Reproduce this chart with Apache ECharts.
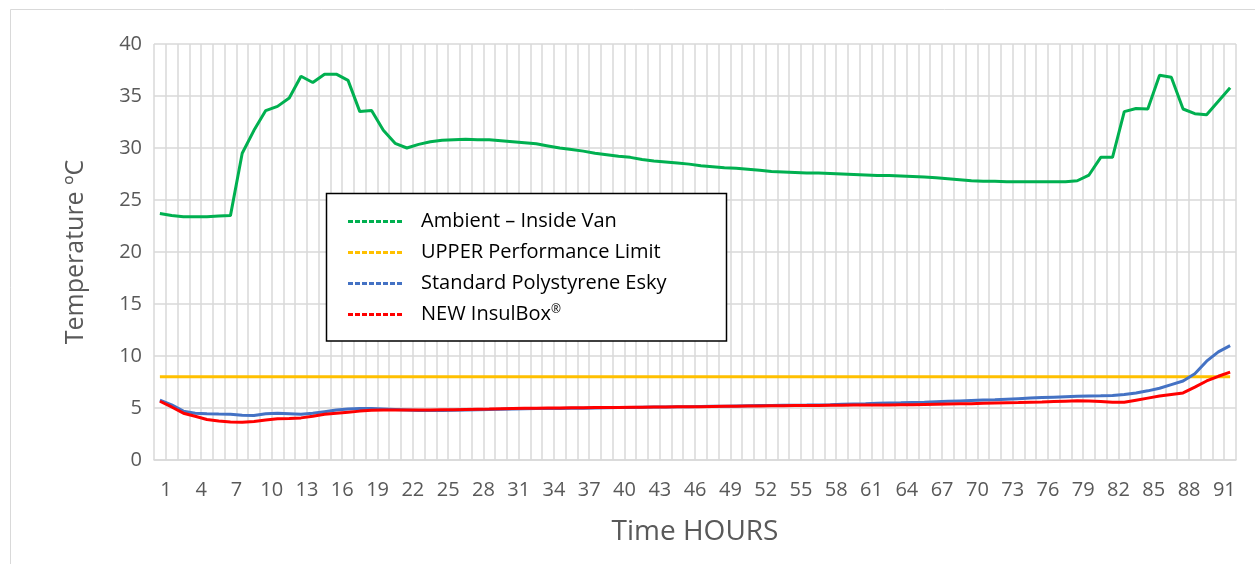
<!DOCTYPE html>
<html>
<head>
<meta charset="utf-8">
<script src="https://cdn.jsdelivr.net/npm/echarts@6/dist/echarts.min.js"></script>
<style>
html,body{margin:0;padding:0;background:#fff;}
#chart{width:1255px;height:564px;}
</style>
</head>
<body>
<div id="chart"></div>
<script>
// Hours 1..92
const hours = [];
for (let i = 1; i <= 92; i++) hours.push(String(i));

const seriesNames = ['Ambient \u2013 Inside Van', 'UPPER Performance Limit', 'Standard Polystyrene Esky', 'NEW InsulBox\u00AE'];

const ambient = [
  23.7, 23.5, 23.4, 23.4, 23.4, 23.45, 23.5, 29.5, 31.7, 33.6,
  34.0, 34.8, 36.9, 36.3, 37.1, 37.1, 36.5, 33.5, 33.6, 31.7,
  30.45, 30.0, 30.35, 30.6, 30.75, 30.8, 30.85, 30.8, 30.8, 30.7,
  30.6, 30.5, 30.4, 30.2, 30.0, 29.85, 29.7, 29.5, 29.35, 29.2,
  29.1, 28.9, 28.75, 28.65, 28.55, 28.45, 28.3, 28.2, 28.1, 28.05,
  27.95, 27.85, 27.75, 27.7, 27.65, 27.6, 27.6, 27.55, 27.5, 27.45,
  27.4, 27.35, 27.35, 27.3, 27.25, 27.2, 27.15, 27.05, 26.95, 26.85,
  26.8, 26.8, 26.75, 26.75, 26.75, 26.75, 26.75, 26.75, 26.85, 27.4,
  29.1, 29.1, 33.5, 33.8, 33.75, 37.0, 36.8, 33.75, 33.3, 33.2,
  34.5, 35.8
];

const upperLimit = [
  8, 8, 8, 8, 8, 8, 8, 8, 8, 8, 8, 8, 8, 8, 8, 8, 8, 8, 8, 8,
  8, 8, 8, 8, 8, 8, 8, 8, 8, 8, 8, 8, 8, 8, 8, 8, 8, 8, 8, 8,
  8, 8, 8, 8, 8, 8, 8, 8, 8, 8, 8, 8, 8, 8, 8, 8, 8, 8, 8, 8,
  8, 8, 8, 8, 8, 8, 8, 8, 8, 8, 8, 8, 8, 8, 8, 8, 8, 8, 8, 8,
  8, 8, 8, 8, 8, 8, 8, 8, 8, 8, 8, 8
];

const polystyrene = [
  5.75, 5.3, 4.7, 4.5, 4.45, 4.42, 4.4, 4.3, 4.28, 4.45,
  4.5, 4.45, 4.4, 4.5, 4.65, 4.8, 4.9, 4.95, 4.95, 4.9,
  4.85, 4.8, 4.75, 4.75, 4.75, 4.78, 4.8, 4.82, 4.85, 4.87,
  4.9, 4.92, 4.94, 4.95, 4.96, 4.97, 4.98, 5.0, 5.02, 5.04,
  5.06, 5.08, 5.09, 5.1, 5.11, 5.12, 5.14, 5.16, 5.18, 5.2,
  5.22, 5.24, 5.25, 5.26, 5.27, 5.28, 5.3, 5.32, 5.35, 5.38,
  5.41, 5.45, 5.48, 5.5, 5.53, 5.56, 5.6, 5.64, 5.68, 5.72,
  5.76, 5.8, 5.85, 5.9, 5.95, 6.0, 6.04, 6.08, 6.12, 6.15,
  6.17, 6.2, 6.3, 6.45, 6.65, 6.9, 7.25, 7.6, 8.3, 9.5,
  10.4, 11.0
];

const insulBox = [
  5.65, 5.1, 4.5, 4.2, 3.9, 3.75, 3.65, 3.62, 3.7, 3.85,
  3.97, 4.0, 4.05, 4.2, 4.4, 4.5, 4.6, 4.7, 4.78, 4.8,
  4.8, 4.8, 4.8, 4.8, 4.82, 4.84, 4.86, 4.88, 4.9, 4.93,
  4.95, 4.97, 4.98, 5.0, 5.01, 5.02, 5.03, 5.04, 5.05, 5.06,
  5.07, 5.08, 5.09, 5.1, 5.11, 5.12, 5.13, 5.15, 5.17, 5.18,
  5.19, 5.2, 5.21, 5.22, 5.23, 5.24, 5.25, 5.26, 5.27, 5.28,
  5.28, 5.29, 5.3, 5.31, 5.32, 5.34, 5.36, 5.38, 5.4, 5.42,
  5.45, 5.48, 5.5, 5.52, 5.55, 5.58, 5.62, 5.66, 5.7, 5.68,
  5.62, 5.55, 5.55, 5.75, 5.95, 6.15, 6.3, 6.45, 7.0, 7.6,
  8.05, 8.45
];

const colors = ['#00B050', '#FFC000', '#4472C4', '#FF0000'];
const FONT = 'Open Sans';

// dashed legend icon: 8 dashes of 5px with 2px gaps (54px wide)
let dashPath = 'path://';
for (let i = 0; i < 8; i++) dashPath += 'M' + (i * 7) + ',0h5v3h-5z';

const chart = echarts.init(document.getElementById('chart'), null, {renderer: 'canvas'});

const dataSets = [ambient, upperLimit, polystyrene, insulBox];

chart.setOption({
  animation: false,
  backgroundColor: '#ffffff',
  color: colors,
  textStyle: {fontFamily: FONT},
  grid: {left: 154, right: 19, top: 44, bottom: 104, containLabel: false},
  graphic: [
    {type: 'rect', left: 8, top: 7, z: -10, silent: true,
     shape: {x: 0, y: 0, width: 1300, height: 620},
     style: {fill: 'none', stroke: '#d9d9d9', lineWidth: 1}},
    {type: 'rect', z: 3, silent: true,
     shape: {x: 326.5, y: 193.5, width: 400, height: 147.5},
     style: {fill: '#ffffff', stroke: '#000000', lineWidth: 1.5}}
  ],
  legend: {
    orient: 'vertical',
    left: 348,
    top: 211,
    padding: 0,
    itemWidth: 54,
    itemHeight: 3,
    itemGap: 10,
    icon: dashPath,
    z: 5,
    data: seriesNames.map((n, k) => ({
      name: n,
      icon: dashPath,
      itemStyle: {color: colors[k], borderWidth: 0, opacity: 1},
      lineStyle: {color: colors[k], width: 0, opacity: 0}
    })),
    textStyle: {
      fontFamily: FONT, fontSize: 20, color: '#000000', lineHeight: 21,
      padding: [0, 0, 0, 14],
      rich: {
        n: {fontFamily: FONT, fontSize: 20, color: '#000', lineHeight: 21},
        s: {fontFamily: FONT, fontSize: 12, color: '#000', verticalAlign: 'top', lineHeight: 14}
      }
    },
    formatter: function (name) {
      if (name === seriesNames[3]) return '{n|NEW InsulBox}{s|\u00AE}';
      return name;
    }
  },
  xAxis: {
    type: 'category',
    data: hours,
    boundaryGap: true,
    name: 'Time HOURS',
    nameLocation: 'middle',
    nameGap: 58,
    nameTextStyle: {fontFamily: FONT, fontSize: 28, color: '#595959'},
    axisLine: {show: true, lineStyle: {color: '#d9d9d9', width: 1.5}},
    axisTick: {show: false},
    axisLabel: {interval: 2, fontFamily: FONT, fontSize: 20, color: '#595959', margin: 20, padding: [0, 0, 0, 12]},
    splitLine: {show: true, interval: 0, lineStyle: {color: '#d9d9d9', width: 1.5}}
  },
  yAxis: {
    type: 'value',
    min: 0, max: 40, interval: 5,
    name: 'Temperature \u00BAC',
    nameLocation: 'middle',
    nameGap: 66,
    nameTextStyle: {fontFamily: FONT, fontSize: 25, color: '#595959'},
    axisLine: {show: false},
    axisTick: {show: false},
    axisLabel: {fontFamily: FONT, fontSize: 20, color: '#595959', margin: 12},
    splitLine: {show: true, lineStyle: {color: '#d9d9d9', width: 1.5}}
  },
  series: seriesNames.map((n, k) => ({
    name: n,
    type: 'line',
    data: dataSets[k],
    symbol: 'none',
    smooth: false,
    z: 2 + k,
    itemStyle: {color: colors[k]},
    lineStyle: {color: colors[k], width: 3}
  }))
});
</script>
</body>
</html>
